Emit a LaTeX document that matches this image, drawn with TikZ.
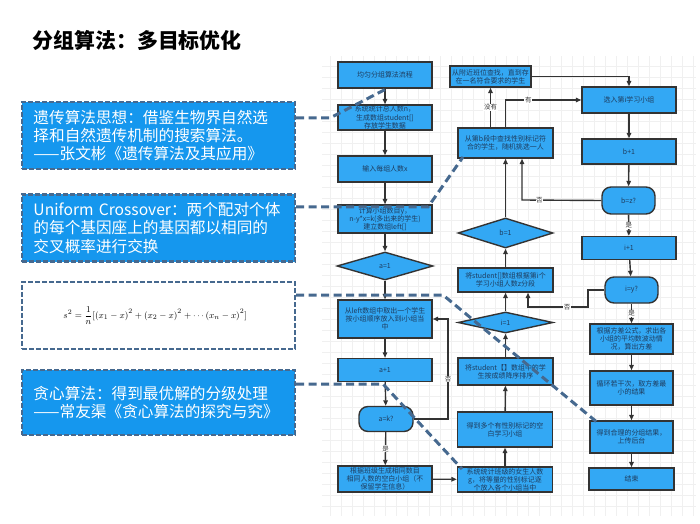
\documentclass[tikz,border=0pt]{standalone}
\usepackage[no-math]{fontspec}
\setmainfont{Noto Sans CJK SC}
\usetikzlibrary{arrows.meta,shapes.geometric}
\definecolor{noteblue}{HTML}{1597EE}
\definecolor{nodeblue}{HTML}{33A8F4}
\definecolor{linkblue}{HTML}{46698F}
\definecolor{linegray}{HTML}{333333}
\definecolor{nodetext}{HTML}{1E3C5E}
\newcommand\flowfont{\fontsize{7}{8.2}\selectfont}
\newcommand\notefont{\fontsize{15.7}{18.5}\selectfont}
\newcommand\lblfont{\fontsize{6.5}{7}\selectfont}
\begin{document}
\begin{tikzpicture}[x=1bp,y=-1bp,
    box/.style={draw=linegray, line width=1.4bp, fill=nodeblue, text=nodetext,
      font=\flowfont, align=center, inner sep=0.5bp, minimum width=94bp},
    dia/.style={box, diamond, aspect=3.4, inner sep=0bp},
    term/.style={box, rounded corners=9bp},
    flow/.style={draw=linegray, line width=1.4bp, -{Triangle[length=5.5bp,width=4.5bp]}},
    lbl/.style={fill=white, text=linegray, font=\lblfont, inner sep=0.6bp},
    note/.style={draw=linkblue, line width=2.4bp, dash pattern=on 5bp off 2bp,
      fill=noteblue, text=white, font=\notefont, align=left,
      text width=250bp, inner xsep=11.5bp, minimum height=67bp},
    link/.style={draw=linkblue, line width=3bp, dash pattern=on 8bp off 4.5bp}]
  \useasboundingbox (0,0) rectangle (700,524);
  \draw[black!6, line width=0.4bp, step=11bp] (322,56) grid (696,516);

  \node[anchor=west, font=\fontsize{21}{24}\selectfont\bfseries] (title) at (29,40) {分组算法：多目标优化};

  % notes on the left
  \node[note] (n1) at (158.5,135.5) {遗传算法思想：借鉴生物界自然选\\择和自然遗传机制的搜索算法。\\——张文彬《遗传算法及其应用》};
  \node[note] (n2) at (158.5,228) {Uniform Crossover：两个配对个体\\的每个基因座上的基因都以相同的\\交叉概率进行交换};
  \node[note, fill=white, text=black] (n3) at (158.5,315.5) {\hspace*{30bp}\fontsize{9.5}{12}\selectfont
    $s^2=\displaystyle\frac{1}{n}[(x_1-x)^2+(x_2-x)^2+\cdots(x_n-x)^2]$};
  \node[note, minimum height=65bp] (n4) at (158.5,402.5) {贪心算法：得到最优解的分级处理\\——常友渠《贪心算法的探究与究》};

  % flow chart
  \node[box, minimum height=26bp] (a1) at (385,75) {均匀分组算法流程};
  \node[box, minimum height=25bp] (a2) at (385,117.5) {系统统计总人数n，\\生成数组student[]\\存放学生数据};
  \node[box, minimum height=26bp] (a3) at (385,169) {输入每组人数x};
  \node[box, minimum height=28bp] (a4) at (385,219) {计算小组数目y，\\n-y*x=k(多出来的学生)\\建立数组left[]};
  \node[dia, minimum width=96bp, minimum height=28bp] (a5) at (385,266) {a=1};
  \node[box, minimum height=38bp] (a6) at (385,319) {从left数组中取出一个学生\\按小组顺序放入到i小组当\\中};
  \node[box, minimum height=23bp] (a7) at (385,370) {a+1};
  \node[term, minimum width=54bp, minimum height=25bp] (a8) at (386,419) {a=k?};
  \node[box, minimum height=26bp] (a9) at (385,479) {根据班级生成相同数目\\相同人数的空白小组（不\\保留学生信息）};

  \node[box, minimum width=81bp, minimum height=21bp] (b1) at (490.5,76.5) {从附近班位查找，直到存\\在一名符合要求的学生};
  \node[box, minimum width=95bp, minimum height=30bp] (b2) at (505.5,143) {从第b段中查找性别标记符\\合的学生，随机挑选一人};
  \node[dia, minimum width=95bp, minimum height=30bp] (b3) at (505.5,233) {b=1};
  \node[box, minimum width=95bp, minimum height=24bp] (b4) at (505.5,280) {将student[]数组根据第i个\\学习小组人数z分段};
  \node[dia, minimum width=95bp, minimum height=21bp] (b5) at (505.5,322.5) {i=1};
  \node[box, minimum width=95bp, minimum height=27bp] (b6) at (505.5,371.5) {将student【】数组中的学\\生按成绩降序排序};
  \node[box, minimum width=95bp, minimum height=35bp] (b7) at (505,429.5) {得到多个有性别标记的空\\白学习小组};
  \node[box, minimum width=95bp, minimum height=25bp] (b8) at (505,479.5) {系统统计班级的女生人数\\g，将等量的性别标记逐\\个放入各个小组当中};

  \node[box, minimum height=26bp] (c1) at (629,100) {选入第i学习小组};
  \node[box, minimum height=25bp] (c2) at (629,151.5) {b+1};
  \node[term, minimum width=53bp, minimum height=27bp] (c3) at (628.5,200.5) {b=z?};
  \node[box, minimum height=23bp] (c4) at (629,248) {i+1};
  \node[term, minimum width=53bp, minimum height=26bp] (c5) at (631.5,290) {i=y?};
  \node[box, minimum width=83bp, minimum height=30bp] (c6) at (631.5,339) {根据方差公式，求出各\\小组的平均数波动情\\况，算出方差};
  \node[box, minimum width=83bp, minimum height=34bp] (c7) at (631.5,388) {循环若干次，取方差最\\小的结果};
  \node[box, minimum width=83bp, minimum height=32bp] (c8) at (631.5,437) {得到合理的分组结果，\\上传后台};
  \node[box, minimum width=85bp, minimum height=22bp] (c9) at (631.5,479) {结束};

  \coordinate (ka) at (448,319);
  \coordinate (zb) at (522,200);
  \coordinate (ya) at (588,290);
  \coordinate (yb) at (588,307);
  \coordinate (yc) at (528,307);
  \begin{scope}[flow]
    \draw (a1) to (a2);
    \draw (a2) to (a3);
    \draw (a3) to (a4);
    \draw (a4) to (a5);
    \draw (a5) to (a6);
    \draw (a6) to (a7);
    \draw (a7) to (a8);
    \draw (a8) to node[lbl]{是} (a9);
    \draw (a8.east) -| node[lbl, pos=0.7]{否} (ka) -- (a6.east);
    \draw (a9) to (b8);
    \draw (b8) to (b7);
    \draw (b7) to (b6);
    \draw (b6) to (b5);
    \draw (b5) to (b4);
    \draw (b4) to (b3);
    \draw (b3) to (b2);
    \draw (b2.north -| b1.south) -- node[lbl]{没有} (b1.south);
    \draw (b2.north) |- node[lbl, pos=0.65]{有} (c1.west);
    \draw (b1.east) -| (c1.north);
    \draw (c1) to (c2);
    \draw (c2) to (c3);
    \draw (c3) to node[lbl]{是} (c4);
    \draw (c3.west) -- node[lbl, pos=0.78]{否} (zb) -- (zb |- b2.south);
    \draw (c4) to (c5);
    \draw (c5) to node[lbl]{是} (c6);
    \draw (c5.west) -- (ya) -- (yb) -- node[lbl, pos=0.35]{否} (yc) -- (yc |- b4.south);
    \draw (c6) to (c7);
    \draw (c7) to (c8);
    \draw (c8) to (c9);
  \end{scope}

  % dashed links from the notes
  \coordinate (l1a) at (330,118);
  \coordinate (l1b) at (386,89);
  \coordinate (l2a) at (428,207);
  \coordinate (l2b) at (463,157);
  \coordinate (l3a) at (443,295);
  \coordinate (l3b) at (598,423);
  \coordinate (l4a) at (383,384);
  \coordinate (l4b) at (462,469);
  \draw[link] ([yshift=17.5bp]n1.east) -- (l1a) -- (l1b);
  \draw[link] ([yshift=21bp]n2.east) -- (l2a) -- (l2b);
  \draw[link] ([yshift=20.5bp]n3.east) -- (l3a) -- (l3b);
  \draw[link] ([yshift=18.5bp]n4.east) -- (l4a) -- (l4b);
\end{tikzpicture}
\end{document}
